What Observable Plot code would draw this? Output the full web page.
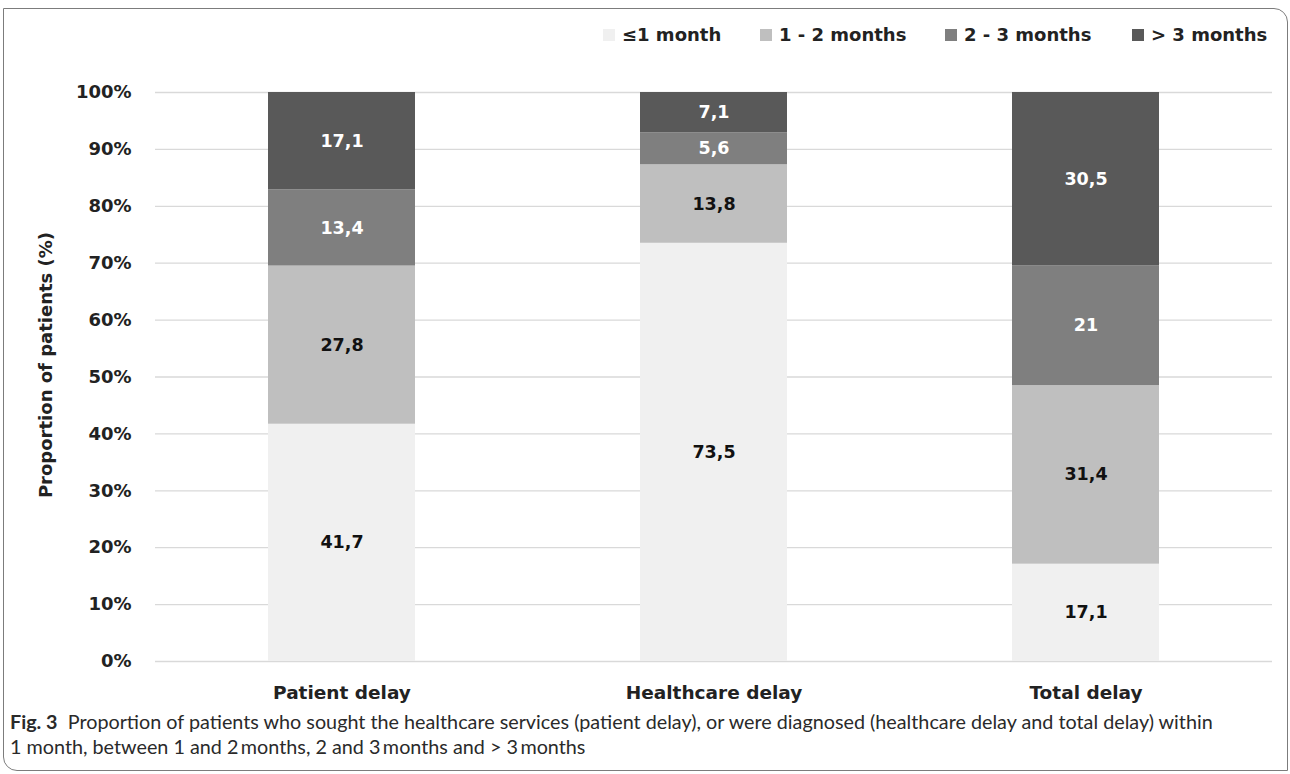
<!DOCTYPE html>
<html>
<head>
<meta charset="utf-8">
<script src="https://cdn.jsdelivr.net/npm/d3@7"></script>
<script src="https://cdn.jsdelivr.net/npm/@observablehq/plot@0.6"></script>
<style>
  html, body { margin: 0; padding: 0; background: #fff; }
  body { width: 1290px; height: 774px; position: relative; overflow: hidden; font-family: "DejaVu Sans", sans-serif; }
  #frame { position: absolute; left: 3px; top: 8px; width: 1285px; height: 763px; border: 1.5px solid #7c7c7c; border-radius: 0 14px 0 14px; box-sizing: border-box; }
  .lg-sw { position: absolute; width: 12px; height: 12px; top: 29px; }
  .lg-tx { position: absolute; top: 23px; font-family: "DejaVu Sans", sans-serif; font-weight: 700; font-size: 18px; line-height: 24px; color: #222; white-space: nowrap; }
  #chart { position: absolute; left: 0; top: 60px; }
  #caption { position: absolute; left: 10px; top: 709px; font-family: Lato, "Open Sans", sans-serif; font-size: 18px; line-height: 25px; color: #2a2a2a; white-space: nowrap; }
  #caption b { font-weight: 700; }
</style>
</head>
<body>
<div id="frame"></div>
<div id="legend"></div>
<div id="chart"></div>
<div id="caption"><span id="cap1"><b>Fig. 3</b>&nbsp; Proportion of patients who sought the healthcare services (patient delay), or were diagnosed (healthcare delay and total delay) within</span><br><span>1 month, between 1 and 2&#8201;months, 2 and 3&#8201;months and &gt; 3&#8201;months</span></div>
<script>
const delays = ["Patient delay", "Healthcare delay", "Total delay"];
const categories = ["≤1 month", "1 - 2 months", "2 - 3 months", "> 3 months"];
const colors = ["#f0f0f0", "#bfbfbf", "#7f7f7f", "#595959"];
const labelColors = ["#111", "#111", "#fff", "#fff"];
const patientDelay = [41.7, 27.8, 13.4, 17.1];
const healthcareDelay = [73.5, 13.8, 5.6, 7.1];
const totalDelay = [17.1, 31.4, 21, 30.5];
const yTicks = [0, 10, 20, 30, 40, 50, 60, 70, 80, 90, 100];
const yLabel = "Proportion of patients (%)";

const series = [patientDelay, healthcareDelay, totalDelay];
const data = [];
delays.forEach((d, i) => categories.forEach((c, j) => data.push({delay: d, cat: c, value: series[i][j], lc: labelColors[j]})));

// legend (HTML, above the SVG)
const legendX = [603, 760, 945, 1132];
const lg = document.getElementById("legend");
categories.forEach((c, j) => {
  const sw = document.createElement("div"); sw.className = "lg-sw";
  sw.style.left = legendX[j] + "px"; sw.style.background = colors[j];
  const tx = document.createElement("div"); tx.className = "lg-tx";
  tx.style.left = (legendX[j] + 19) + "px"; tx.textContent = c;
  lg.appendChild(sw); lg.appendChild(tx);
});

const font = "'DejaVu Sans', sans-serif";
const chart = Plot.plot({
  width: 1290,
  height: 650,
  marginTop: 32,
  marginBottom: 49,
  marginLeft: 155,
  marginRight: 18,
  style: {fontFamily: font, fontWeight: 700, color: "#222"},
  x: {domain: delays, paddingInner: 0.605, paddingOuter: 0.3025},
  y: {domain: [0, 100]},
  color: {domain: categories, range: colors},
  marks: [
    Plot.gridY(yTicks, {stroke: "#d9d9d9", strokeOpacity: 1, strokeWidth: 1.3}),
    Plot.barY(data, Plot.stackY({x: "delay", y: "value", fill: "cat", order: categories})),
    Plot.text(data, Plot.stackY({x: "delay", y: "value", z: "cat", order: categories, text: d => String(d.value).replace(".", ","), fill: d => d.lc, fontSize: 17.5, fontWeight: 700})),
    Plot.axisX({tickSize: 0, tickPadding: 24, fontSize: 18.5, label: null}),
    Plot.axisY({ticks: yTicks, tickSize: 0, tickPadding: 24, fontSize: 18, tickFormat: d => d + "%", label: null}),
    Plot.text([yLabel], {frameAnchor: "left", textAnchor: "middle", lineAnchor: "middle", dx: -109, dy: -12, rotate: -90, fontSize: 18, fontWeight: 700, fill: "#222"})
  ]
});
document.getElementById("chart").appendChild(chart);

// fit caption first line to the reference width
const cap = document.getElementById("caption");
const c1 = document.getElementById("cap1");
const target = 1203;
let fs = 18;
for (let k = 0; k < 4; k++) {
  cap.style.fontSize = fs + "px";
  const w = c1.getBoundingClientRect().width;
  fs = fs * target / w;
}
cap.style.fontSize = fs + "px";
</script>
</body>
</html>
